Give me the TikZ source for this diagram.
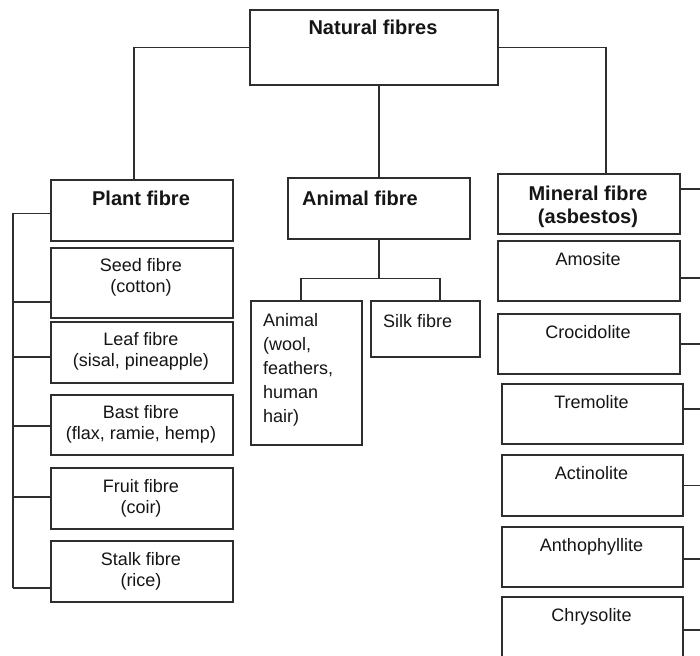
\documentclass[tikz,border=0pt]{standalone}
\usepackage{fontspec}
\setmainfont{Liberation Sans}
\usetikzlibrary{calc}
\definecolor{linegray}{HTML}{2E2E2E}
\definecolor{ink}{HTML}{151515}
\begin{document}
\begin{tikzpicture}[x=1pt,y=-1pt,
  box/.style={draw=linegray, line width=1.6pt, fill=white, inner sep=0pt, anchor=north west},
  link/.style={draw=linegray, line width=1.5pt},
  head/.style={font=\fontsize{20}{23}\selectfont\bfseries, text=ink, inner sep=0pt, anchor=base, align=center},
  item/.style={font=\fontsize{18}{20.5}\selectfont, text=ink, inner sep=0pt, anchor=base, align=center},
  itemleft/.style={font=\fontsize{18}{24}\selectfont, text=ink, inner sep=0pt, anchor=base west, align=left},
]
\useasboundingbox (0,0) rectangle (700,655);
\fill[white] (0,0) rectangle (700,655);
\clip (0,0) rectangle (700,655);

% top level
\node[box, minimum width=248pt, minimum height=75pt] (nat) at (249,9) {};
\node[head] (natT) at (373,35) {Natural fibres};

% plant column (multi-line labels are placed by their last baseline)
\node[box, minimum width=182pt, minimum height=61pt] (plant) at (50,179) {};
\node[box, minimum width=182pt, minimum height=70pt] (seed)  at (50,247) {};
\node[box, minimum width=182pt, minimum height=61pt] (leaf)  at (50,321) {};
\node[box, minimum width=182pt, minimum height=60pt] (bast)  at (50,394) {};
\node[box, minimum width=182pt, minimum height=61pt] (fruit) at (50,467) {};
\node[box, minimum width=182pt, minimum height=61pt] (stalk) at (50,540) {};
\node[head] (plantT) at (141,205) {Plant fibre};
\node[item] (seedT)  at (141,292) {Seed fibre\\(cotton)};
\node[item] (leafT)  at (141,366) {Leaf fibre\\(sisal, pineapple)};
\node[item] (bastT)  at (141,439) {Bast fibre\\(flax, ramie, hemp)};
\node[item] (fruitT) at (141,513) {Fruit fibre\\(coir)};
\node[item] (stalkT) at (141,586) {Stalk fibre\\(rice)};

% animal column
\node[box, minimum width=182pt, minimum height=61pt]  (ani)   at (287,177) {};
\node[box, minimum width=111pt, minimum height=144pt] (awool) at (250,300) {};
\node[box, minimum width=109pt, minimum height=56pt]  (silk)  at (370,300) {};
\node[head, anchor=base west] (aniT) at (302,205) {Animal fibre};
\node[itemleft] (awoolT) at (263,422) {Animal\\(wool,\\feathers,\\human\\hair)};
\node[itemleft] (silkT) at (383,327) {Silk fibre};

% mineral column
\node[box, minimum width=182pt, minimum height=60pt] (min)   at (497,173) {};
\node[box, minimum width=182pt, minimum height=60pt] (amos)  at (497,240) {};
\node[box, minimum width=182pt, minimum height=60pt] (croc)  at (497,313) {};
\node[box, minimum width=181pt, minimum height=60pt] (trem)  at (501,383) {};
\node[box, minimum width=181pt, minimum height=61pt] (actin) at (501,454) {};
\node[box, minimum width=181pt, minimum height=60pt] (antho) at (501,526) {};
\node[box, minimum width=181pt, minimum height=70pt] (chrys) at (501,596) {};
\node[head] (minT) at (588,223) {Mineral fibre\\(asbestos)};
\node[item] (amosT)  at (588,265) {Amosite};
\node[item] (crocT)  at (588,338) {Crocidolite};
\node[item] (tremT)  at (591.5,408) {Tremolite};
\node[item] (actinT) at (591.5,479) {Actinolite};
\node[item] (anthoT) at (591.5,551) {Anthophyllite};
\node[item] (chrysT) at (591.5,621) {Chrysolite};

% links from the top box
\draw[link] (nat.west) -| ([xshift=84pt]plant.north west);
\draw[link] (nat.east) -| ([xshift=109pt]min.north west);
\draw[link] (ani.north) -- (ani.north |- nat.south);

% animal split
\coordinate (asplit) at ($(ani.south)+(0,39)$);
\draw[link] (ani.south) -- (asplit);
\draw[link] ([xshift=-5.5pt]awool.north) |- (asplit) -| ([xshift=14.5pt]silk.north);

% plant bus on the left
\coordinate (pbus) at (13,0);
\foreach \n/\d in {plant/3, seed/19, leaf/4.5, bast/1, fruit/-1.5, stalk/16.5} {
  \coordinate (\n-tap) at ($(\n.west)+(0,\d)$);
  \draw[link] (\n-tap) -- (pbus |- \n-tap);
}
\draw[link] (pbus |- plant-tap) -- (pbus |- stalk-tap);

% mineral taps to the right
\coordinate (rbus) at (702,0);
\foreach \n/\d in {min/-15, amos/7, croc/0, trem/-5, actin/0, antho/2, chrys/-2} {
  \coordinate (\n-tap) at ($(\n.east)+(0,\d)$);
  \draw[link] (\n-tap) -- (rbus |- \n-tap);
}
\end{tikzpicture}
\end{document}
